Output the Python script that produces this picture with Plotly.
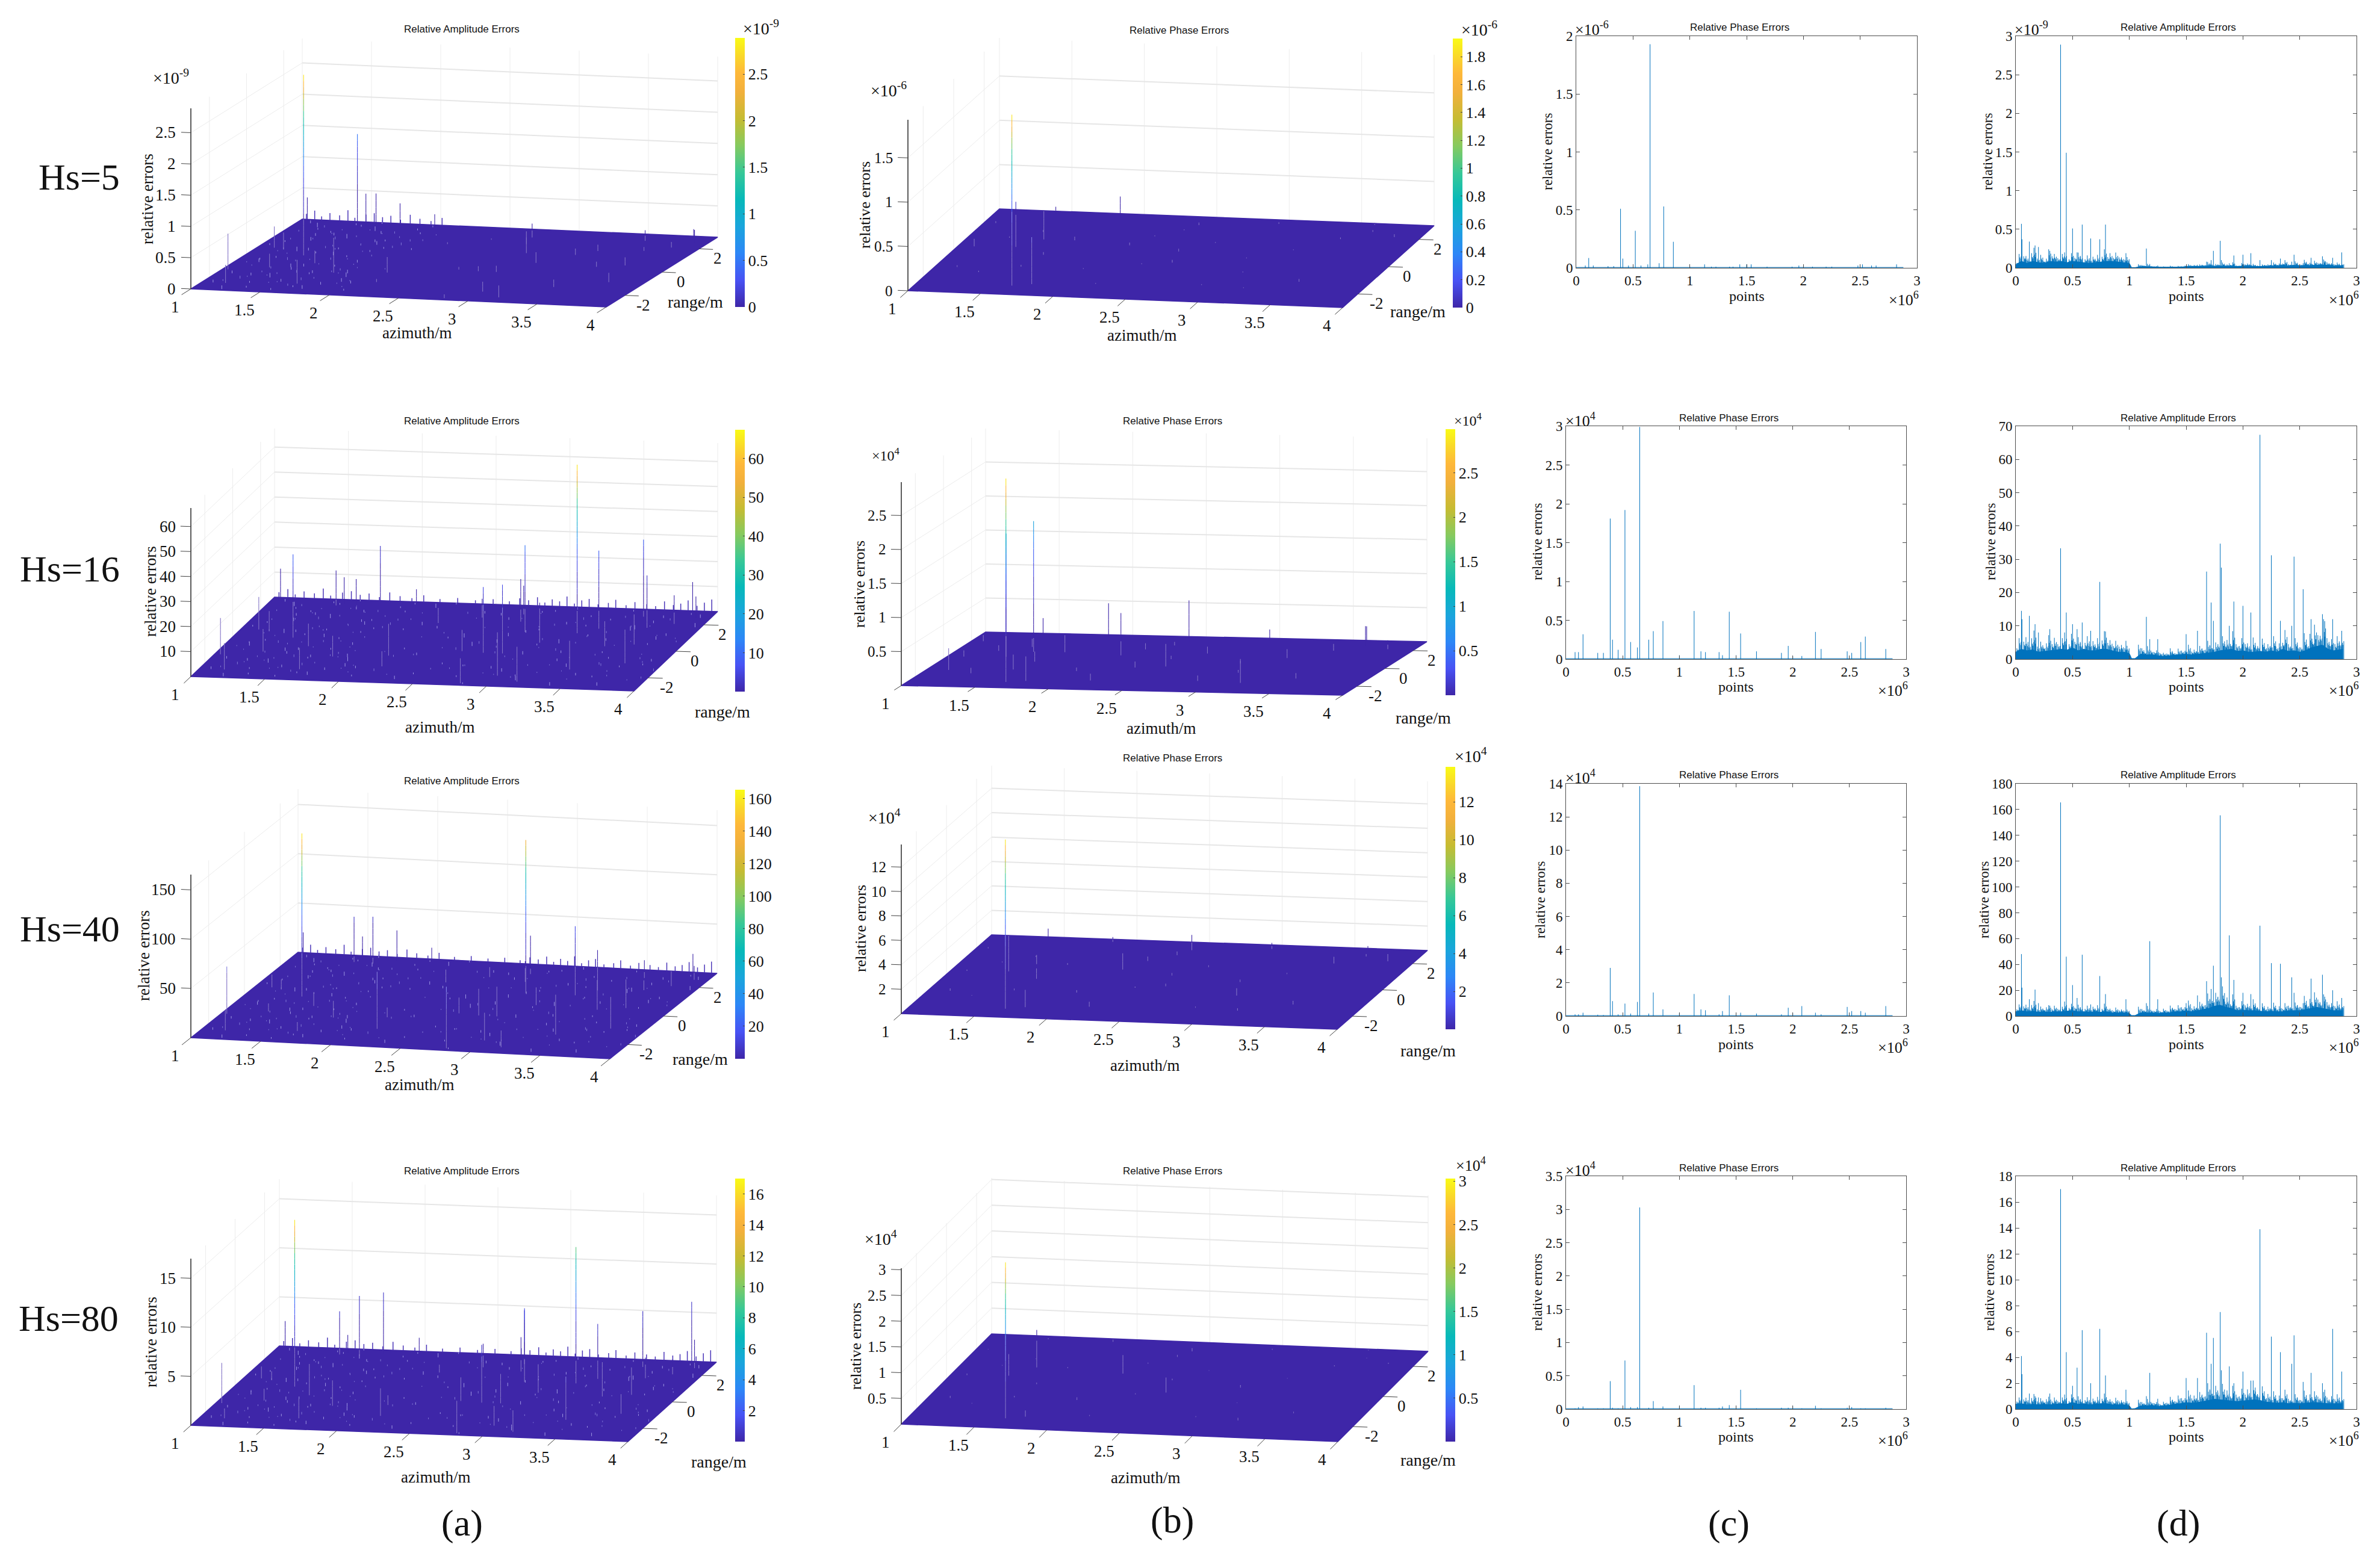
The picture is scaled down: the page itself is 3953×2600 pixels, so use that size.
import math
import plotly.graph_objects as go

W, H = 3953, 2600
BODY = 8  # the page's default body margin pushes the figure down and right
SERIF = "Liberation Serif"
SANS = "Liberation Sans"
BLUE = "#0072BD"
FLOOR = "#3e26a8"

PARULA = [[0, "#3e26a8"], [0.1, "#4852f4"], [0.2, "#2d87f7"], [0.3, "#1aa5dc"], [0.4, "#07b9b9"],
          [0.5, "#37c897"], [0.6, "#86ca5f"], [0.7, "#c6bc32"], [0.8, "#f2b03c"], [0.87, "#feb83a"],
          [0.93, "#fad62b"], [1, "#f9fb15"]]

# phase error spikes: index (1e6), range, height per Hs row
phase_x = [0.11, 0.15, 0.08, 0.28, 0.33, 0.39, 0.41, 0.46, 0.52, 0.57, 0.63, 0.65, 0.73, 0.77, 0.855, 1.0, 1.13, 1.19,
           1.23, 1.35, 1.38, 1.44, 1.5, 1.54, 1.68, 1.9, 1.96, 2.0, 2.08, 2.2, 2.25, 2.48, 2.52, 2.6, 2.64, 2.82]
phase_rng = [0.3, -1.2, 2, 1, -1.5, 0.37, 2.8, 1.5, 0.97, -1, -0.1, -2.36, 1, -2.2, 2.8, -1, 0.8, -2,
             1.5, -0.5, 2, 2.4, 0.5, -0.3, 1.2, -1.8, 2.7, 0.2, -0.8, -1.9, 0.9, 1.8, -1.3, 2.9, 2.4, 2.1]
phase_h5 = [.085, .02, .02, .015, .015, .51, .08, .02, .32, .02, .03, 1.93, .04, .53, .225, .01, .03, .01,
            .01, .01, .01, .03, .03, .03, .01, .01, .02, .01, .01, .01, .01, .02, .03, .02, .02, .03]
phase_h16 = [.09, .32, .09, .08, .08, 1.81, .25, .12, 1.92, .22, .15, 2.99, .25, .36, .49, .05, .62, .1,
             .09, .09, .05, .61, .05, .33, .1, .08, .17, .04, .04, .35, .13, .1, .08, .22, .29, .13]
phase_h40 = [.1, .2, .1, .08, .06, 2.9, .9, .1, .75, .15, .85, 13.85, .15, 1.42, .4, .2, 1.33, .4,
             .35, .1, .3, 1.25, .2, .2, .15, .1, .5, .2, .6, .2, .1, .55, .3, .3, .2, .6]
phase_h80 = [.03, .04, .01, .01, .01, .42, .02, .01, .73, .03, .03, 3.03, .02, .12, .04, .05, .36, .02,
             .02, .02, .04, .06, .03, .29, .01, .02, .02, .05, .01, .05, .01, .02, .03, .01, .01, .02]

# amplitude error spikes: index (1e6), azimuth, range, height per Hs row
amp_x = [.05, .055, .12, .17, .20, .30, .395, .445, .50, .54, .585, .66, .74, .79, .97, 1.15, 1.18, 1.25, 1.5, 1.6,
         1.68, 1.72, 1.74, 1.8, 1.81, 1.88, 1.92, 2.0, 2.07, 2.15, 2.25, 2.33, 2.43, 2.45, 2.53, 2.6, 2.7, 2.72, 2.79, 2.87]
amp_az = [1.04, 1.05, 1.12, 1.17, 1.2, 1.3, 1.40, 1.46, 1.5, 1.56, 1.6, 1.66, 1.74, 1.79, 1.97, 2.15, 2.18, 2.25, 2.5, 2.6,
          2.75, 2.78, 2.75, 2.88, 2.88, 2.81, 3.0, 3.05, 3.17, 3.23, 3.34, 3.43, 3.5, 3.55, 3.65, 3.68, 3.75, 3.8, 3.84, 3.9]
amp_rng = [-1.3, 2.9, .6, -2.4, .5, -1, .09, 2.54, 2.7, -.5, 2.5, -2.2, 2.75, -1.2, 2.9, -1, -1.8, 1.5, 2, -.5,
           -.57, 1.8, 2.33, 1.05, -.57, -2.85, -2.2, .3, -2.6, 1.08, 1.47, -1.58, .2, 2.45, 1.64, .4, -1, 2, 2.9, 2.5]
amp_h5 = [.57, .37, .34, .29, .27, .22, 2.89, 1.49, .51, .2, .56, .38, .37, .56, .19, .25, .05, .03, .02, .04,
          .08, .1, .22, .35, .1, .06, .16, .17, .19, .1, .1, .12, .08, .17, .06, .13, .15, .09, .13, .2]
amp_h16 = [14.5, 12, 13, 10.5, 8, 9, 33.3, 14, 10.5, 9, 11, 8.5, 23.2, 8.3, 5.5, 12.7, 6, 6, 7.5, 8.5,
           26.3, 17, 11.5, 34.7, 27.5, 10, 17.3, 16, 14, 67.4, 31.2, 11.5, 10, 30.8, 21, 12, 13.5, 11.4, 12, 8.5]
amp_h40 = [48, 22, 13, 20.5, 10, 8, 165.5, 46, 24, 14, 47.5, 9, 31, 17, 13, 10, 58, 13, 10, 16,
           27, 21, 39, 155.5, 30, 62.5, 28, 18, 17, 70, 41, 40.5, 30, 18, 10, 29, 32, 15, 20, 14]
amp_h80 = [4.1, 2.7, 1.2, 1, .9, 1.2, 17, 4.4, 1.8, 3.2, 6.1, 2, 6.2, 2.6, 1.5, 1, 2.8, .8, 2.4, 2.4,
           5.9, 3.5, 5.5, 7.5, 3, 3.3, 2, 2.9, 2.2, 13.9, 5.6, 4.4, 3.5, 5.7, 2.1, 2.8, 2, 1.5, 6.2, 2.9]

# pale small peaks scattered over the floor in column (a); height is a share of the z range
speck_az = [1.08, 1.13, 1.17, 1.22, 1.26, 1.31, 1.36, 1.39, 1.44, 1.48, 1.53, 1.57, 1.62, 1.65, 1.71, 1.75, 1.8, 1.84, 1.9, 1.94,
            1.06, 1.11, 1.19, 1.24, 1.29, 1.33, 1.38, 1.43, 1.47, 1.51, 1.55, 1.6, 1.64, 1.69, 1.73, 1.78, 1.83, 1.87, 1.92, 1.97,
            1.1, 1.15, 1.21, 1.27, 1.34, 1.41, 1.46, 1.52, 1.59, 1.67, 1.74, 1.81, 1.89, 1.96, 2.02, 2.07, 2.13, 2.21, 2.28, 2.35,
            2.42, 2.49, 2.56, 2.63, 2.69, 2.74, 2.8, 2.86, 2.91, 2.96, 3.02, 3.07, 3.12, 3.18, 3.24, 3.29, 3.36, 3.41, 3.47, 3.53,
            3.58, 3.63, 3.69, 3.74, 3.79, 3.85, 3.91, 3.96, 2.05, 2.16, 2.24, 2.33, 2.44, 2.52, 2.61, 2.71, 2.77, 2.83, 2.89, 2.94,
            3.0, 3.05, 3.1, 3.15, 3.21, 3.26, 3.32, 3.39, 3.45, 3.51, 3.56, 3.61, 3.66, 3.72, 3.77, 3.83, 3.88, 3.93]
speck_rng = [-2.4, 1.1, -.6, 2.2, -1.7, .4, -2.7, 1.8, -.9, 2.6, -2.1, .7, 2.3, -1.3, .1, -2.6, 1.5, -.3, 2.5, -1.9,
             .8, -1.6, 2.4, -.2, 1.3, -2.3, .5, 2.7, -1.1, 1.6, -2.8, .2, -1.4, 2.1, -.7, 1.2, -2.2, .9, -1.5, 2.8,
             2.7, -.4, -2.9, 1.7, 2, -1.8, .3, -.8, 2.9, -2.5, 1.4, .6, -1.2, 2.2, -2, .9, 2.6, -.5, 1.1, -2.7,
             .4, 2.3, -1.5, -.1, 1.9, -2.4, .7, 2.5, -1.7, 1.2, -.6, 2.8, -2.2, .3, 1.6, -1, 2.1, -2.8, .6, -.3,
             1.5, -2.1, 2.4, -1.3, .8, 2.7, -.8, 1.8, -2.6, 1.3, 2.9, -.9, -2.3, .5, 2.2, -1.6, .2, -2.9, 1, 2.6,
             -1.9, .1, 1.7, -2.5, 2.3, -.4, .9, -1.4, 2.8, -2, 1.4, -.7, 2, -2.7, .4, 1.1, -1.1, 2.5]
speck_h = [.015, .01, .02, .01, .015, .025, .01, .015, .02, .01, .015, .01, .025, .015, .01, .02, .01, .015, .01, .02,
           .01, .015, .025, .01, .02, .01, .015, .01, .015, .025, .01, .02, .01, .015, .01, .02, .015, .01, .025, .01,
           .015, .01, .02, .015, .01, .025, .01, .015, .02, .01, .015, .01, .02, .01, .015, .01, .025, .01, .015, .02,
           .01, .015, .01, .025, .015, .01, .02, .01, .015, .01, .02, .015, .01, .025, .01, .015, .01, .02, .015, .01,
           .025, .01, .015, .01, .02, .01, .015, .025, .01, .02, .01, .015, .01, .025, .015, .01, .02, .01, .015, .01,
           .02, .01, .015, .025, .01, .015, .01, .02, .01, .015, .025, .01, .015, .02, .01, .015, .01, .02]

# low peaks that make the far edge of the floor ragged in column (a)
edge_az = [1.03, 1.09, 1.14, 1.2, 1.27, 1.33, 1.38, 1.46, 1.52, 1.58, 1.64, 1.71, 1.78, 1.85, 1.93, 2.01, 2.12, 2.24, 2.36, 2.48,
           2.59, 2.66, 2.72, 2.78, 2.83, 2.88, 2.93, 2.98, 3.03, 3.08, 3.13, 3.19, 3.26, 3.31, 3.38, 3.44, 3.52, 3.58, 3.64, 3.7,
           3.75, 3.8, 3.86, 3.91, 3.96]
edge_h = [.03, .05, .02, .04, .03, .06, .02, .04, .05, .03, .04, .02, .05, .03, .02, .04, .02, .03, .02, .03,
          .02, .04, .03, .05, .02, .04, .03, .06, .02, .04, .05, .02, .03, .05, .02, .04, .03, .02, .05, .03,
          .04, .06, .03, .05, .07]

# dense blue band along the bottom of column (d), read every 0.05e6 points
env_x = [0, .05, .1, .15, .2, .25, .3, .35, .4, .45, .5, .55, .6, .65, .7, .75, .8, .85, .9, .95, 1.0, 1.02, 1.05,
         1.1, 1.15, 1.2, 1.25, 1.3, 1.35, 1.4, 1.45, 1.5, 1.55, 1.6, 1.65, 1.7, 1.75, 1.8, 1.85, 1.9, 1.95, 2.0,
         2.05, 2.1, 2.15, 2.2, 2.25, 2.3, 2.35, 2.4, 2.45, 2.5, 2.55, 2.6, 2.65, 2.7, 2.75, 2.8, 2.88]
env_h5 = [.05, .1, .07, .1, .08, .07, .1, .09, .1, .08, .1, .09, .08, .07, .08, .09, .1, .1, .09, .08, .07, .005, .005,
          .02, .02, .015, .01, .01, .01, .01, .012, .02, .02, .02, .025, .03, .025, .03, .025, .03, .02, .03,
          .03, .02, .02, .025, .03, .03, .04, .03, .04, .03, .04, .035, .04, .045, .04, .03, .03]
env_h16 = [2.5, 3.5, 3, 3.3, 2.5, 2.8, 3, 3.2, 3.5, 3.2, 4, 3, 3.5, 3, 3, 3.5, 3.5, 3, 2.5, 2.5, 2, .2, .2,
           1.8, 1.5, 1.6, 1.2, 1, 1.2, 1.3, 1.5, 1.8, 1.5, 1.8, 2, 2.2, 2.5, 3, 3.2, 3.5, 2.8, 3,
           2.5, 2.5, 2.8, 2.5, 3, 2.5, 3.5, 2.8, 3, 2.5, 3, 4, 4.5, 5, 3.5, 3, 3.5]
env_h40 = [4, 5, 4, 4.5, 3.5, 4, 3.5, 4, 4, 4.5, 5, 4, 4, 3.5, 4, 3.5, 4, 3, 3, 3, 2.5, .5, .5,
           3, 3, 3, 2.5, 3, 3, 4, 4, 5, 4, 5, 6, 7, 9, 10, 8, 7, 5, 5.5,
           5, 5, 4.5, 4, 4.5, 4, 4, 5, 5, 5, 6, 7, 8, 7, 6, 5, 5]
env_h80 = [.45, .5, .4, .45, .4, .45, .4, .45, .5, .45, .6, .45, .5, .4, .45, .5, .5, .4, .4, .4, .3, .03, .05,
           .3, .3, .35, .25, .3, .35, .45, .5, .6, .55, .6, .7, .8, .9, .85, .8, .75, .7, .75,
           .8, .85, .8, .65, .6, .55, .6, .5, .55, .5, .55, .6, .6, .55, .5, .5, .5]

# fine needles on top of that band; height is a multiple of the local band level
needle_x = [.01, .03, .07, .09, .11, .14, .16, .19, .22, .24, .27, .29, .32, .34, .37, .41, .43, .47, .49, .52, .55, .57, .61, .63,
            .65, .68, .7, .72, .76, .78, .81, .83, .86, .88, .91, .93, .96, .98, 1.06, 1.08, 1.11, 1.13, 1.16, 1.19, 1.22, 1.24,
            1.27, 1.3, 1.33, 1.36, 1.38, 1.41, 1.43, 1.46, 1.49, 1.52, 1.55, 1.57, 1.59, 1.62, 1.64, 1.67, 1.69, 1.71, 1.73, 1.76,
            1.78, 1.82, 1.84, 1.86, 1.89, 1.91, 1.94, 1.97, 1.99, 2.02, 2.04, 2.06, 2.09, 2.11, 2.13, 2.17, 2.19, 2.22, 2.24, 2.27,
            2.29, 2.32, 2.35, 2.37, 2.4, 2.42, 2.46, 2.48, 2.51, 2.54, 2.56, 2.59, 2.61, 2.63, 2.66, 2.68, 2.71, 2.74, 2.76, 2.78,
            2.81, 2.83, 2.85, 2.87]
needle_k = [1.3, 1.8, 1.5, 2.2, 1.4, 1.9, 2.6, 1.5, 2.1, 1.3, 1.7, 2.4, 1.5, 2, 1.4, 1.8, 2.5, 1.4, 1.9, 1.3, 2.2, 1.6, 1.4, 2.3,
            1.5, 1.8, 1.3, 2.1, 1.6, 2.4, 1.4, 1.9, 1.3, 2.2, 1.5, 1.7, 1.3, 2, 1.5, 2.4, 1.8, 1.4, 2.6, 1.6, 1.3, 2.2,
            1.5, 1.9, 1.4, 2.7, 1.6, 1.3, 2.1, 1.7, 1.4, 2.4, 1.5, 1.9, 1.3, 2.2, 1.6, 1.4, 2.5, 1.8, 1.3, 2, 1.5,
            2.3, 1.4, 1.8, 1.3, 2.4, 1.6, 1.4, 2.1, 1.5, 1.9, 1.3, 2.6, 1.6, 1.4, 2.2, 1.5, 1.8, 1.3, 2.3, 1.5,
            1.9, 1.4, 2.5, 1.6, 1.3, 2.1, 1.7, 1.4, 2.6, 1.5, 1.9, 1.3, 2.3, 1.6, 1.4, 2.4, 1.8, 1.3, 2, 1.5, 2.3, 1.4, 1.9, 1.3, 2.2]

base_x = [0, 2.88]
az_ticks = [1, 1.5, 2, 2.5, 3, 3.5, 4]
rng_ticks = [-2, 0, 2]


def px(x):
    return (x - BODY) / W


def py(y):
    return 1 - (y - BODY) / H


def fmt(v):
    return f"{v:g}"


def hex_to_rgb(c):
    return [int(c[i:i + 2], 16) for i in (1, 3, 5)]


def parula(v):
    v = min(max(v, 0), 1)
    for (a, ca), (b, cb) in zip(PARULA, PARULA[1:]):
        if v <= b:
            f = (v - a) / (b - a)
            return [round(p + (q - p) * f) for p, q in zip(hex_to_rgb(ca), hex_to_rgb(cb))]
    return hex_to_rgb(PARULA[-1][1])


def css(rgb):
    return f"rgb({rgb[0]},{rgb[1]},{rgb[2]})"


def pale(rgb, f=0.5):
    return [round(c + (255 - c) * f) for c in rgb]


annotations = []


def label(text, x, y, size, family=SERIF, angle=0, anchor="center"):
    annotations.append(dict(text=text, x=px(x), y=py(y), xref="paper", yref="paper", showarrow=False,
                            xanchor=anchor, yanchor="middle", textangle=angle,
                            font=dict(family=family, size=size, color="#111111")))


fig = go.Figure()
layout = {}


def add_lines(xs, ys, color, width=1):
    fig.add_trace(go.Scatter(x=xs, y=ys, mode="lines", xaxis="x", yaxis="y", hoverinfo="skip", showlegend=False,
                             line=dict(color=color, width=width)))


def add_surface_panel(xs, ys, hs, zmax, lf, rf, rb, lb, ztop_y, zticks, cticks, cbar, specks=None, edge=None, zfont=27):
    # WebGL scenes do not draw in the headless page, so the 3D axes are projected onto the page axes here
    def proj(a, r, z=0):
        fa, fr = (a - 1) / 3, (r + 3) / 6
        return (lf[0] + fa * (rf[0] - lf[0]) + fr * (lb[0] - lf[0]),
                lf[1] + fa * (rf[1] - lf[1]) + fr * (lb[1] - lf[1]) - z / zmax * (lf[1] - ztop_y))

    def segs(points):
        xs_, ys_ = [], []
        for p, q in points:
            xs_ += [p[0], q[0], None]
            ys_ += [p[1], q[1], None]
        return xs_, ys_

    # walls: thin verticals, heavier lines along the far wall
    thin = [(proj(t, 3), proj(t, 3, zmax)) for t in az_ticks]
    thin += [(proj(1, t), proj(1, t, zmax)) for t in rng_ticks]
    thin += [(proj(1, -3, t), proj(1, 3, t)) for t in zticks if t > 0]
    add_lines(*segs(thin), "#ececec", 1)
    add_lines(*segs([(proj(1, 3, t), proj(4, 3, t)) for t in zticks if t > 0]), "#e6e6e6", 2)

    # floor
    corners = [proj(1, -3), proj(4, -3), proj(4, 3), proj(1, 3), proj(1, -3)]
    fig.add_trace(go.Scatter(x=[c[0] for c in corners], y=[c[1] for c in corners], mode="lines", fill="toself",
                             fillcolor=FLOOR, xaxis="x", yaxis="y", hoverinfo="skip", showlegend=False,
                             line=dict(color=FLOOR, width=1.5)))

    if specks:
        add_lines(*segs([(proj(a, r), proj(a, r, h * zmax)) for a, r, h in specks]), "#9d96e2", 1)
        # second, shorter pass between the read peaks to fill out the fine texture
        add_lines(*segs([(proj(min(a + .03, 3.99), -r * .83), proj(min(a + .03, 3.99), -r * .83, h * zmax * .6))
                         for a, r, h in specks]), "#8178d6", 1)
    if edge:
        add_lines(*segs([(proj(a, 3), proj(a, 3, h * zmax)) for a, h in edge]), "#4b36b8", 1.5)

    # spikes, cut into short pieces so that they can follow the colour scale
    buckets = {}

    def back_y(sx):
        return lb[1] + (sx - lb[0]) * (rb[1] - lb[1]) / (rb[0] - lb[0])

    for a, r, h in zip(xs, ys, hs):
        pieces = max(2, int(h / zmax * 30))
        for i in range(pieces):
            z0, z1 = h * i / pieces, h * (i + 1) / pieces
            p, q = proj(a, r, z0), proj(a, r, z1)
            v = round(((z0 + z1) / 2 / zmax) ** 2.7 * 24) / 24
            col = parula(v)
            if q[1] > back_y(q[0]):
                col = pale(col, 0.35)
            b = buckets.setdefault(css(col), ([], []))
            b[0].extend([p[0], q[0], None])
            b[1].extend([p[1], q[1], None])
    for col, (bx, by) in buckets.items():
        add_lines(bx, by, col, 1.1)

    # axis lines and tick marks
    add_lines(*segs([(proj(1, -3), proj(1, -3, zmax))]), "#262626", 1.5)
    marks = [(proj(t, -3), proj(t, -3.5)) for t in az_ticks]
    marks += [(proj(4, t), proj(4.1, t)) for t in rng_ticks]
    marks += [(proj(1, -3, t), proj(0.93, -3, t)) for t in zticks]
    add_lines(*segs(marks), "#444444", 1)

    # tick labels
    for t in az_ticks:
        sx, sy = proj(t, -3)
        label(fmt(t), sx - 26, sy + 30, 27)
    for t in rng_ticks:
        sx, sy = proj(4, t)
        label(fmt(t), sx + 31, sy + 16, 27)
    for t in zticks:
        sx, sy = proj(1, -3, t)
        label(fmt(t), sx - 23, sy, zfont, anchor="right")

    # colour bar
    fig.add_trace(go.Scatter(
        x=[-50], y=[-50], mode="markers", xaxis="x", yaxis="y", hoverinfo="skip", showlegend=False,
        marker=dict(size=1, color=[0], colorscale=PARULA, cmin=0, cmax=zmax, showscale=True,
                    colorbar=dict(x=px(cbar[0]), xanchor="left", y=py(cbar[1]), yanchor="top", len=cbar[2] - cbar[1],
                                  lenmode="pixels", thickness=16, thicknessmode="pixels", xpad=0, ypad=0,
                                  outlinewidth=0, ticks="inside", ticklen=3, tickcolor="#444444", tickvals=cticks,
                                  ticktext=[fmt(t) for t in cticks],
                                  tickfont=dict(family=SERIF, size=26, color="#111111")))))


def band_at(env, x):
    i = min(range(len(env_x)), key=lambda j: abs(env_x[j] - x))
    return env[i]


def add_line_panel(n, spike_x, spike_h, env, y_max, dtick, x0, x1, y0, y1):
    xname, yname = f"xaxis{n}", f"yaxis{n}"
    xa, ya = f"x{n}", f"y{n}"
    common = dict(showgrid=False, zeroline=False, showline=True, linecolor="#4d4d4d", linewidth=1, mirror="ticks",
                  ticks="inside", ticklen=6, tickcolor="#4d4d4d",
                  tickfont=dict(family=SERIF, size=23, color="#111111"))
    layout[xname] = dict(common, domain=[px(x0), px(x1)], range=[0, 3], dtick=0.5, anchor=ya)
    layout[yname] = dict(common, domain=[py(y1), py(y0)], range=[0, y_max], dtick=dtick, anchor=xa)
    lx, ly = [], []
    for a, h in zip(spike_x, spike_h):
        lx += [a, a, None]
        ly += [0, h, None]
    if env is not None:
        for a, k in zip(needle_x, needle_k):
            lx += [a, a, None]
            ly += [0, k * band_at(env, a), None]
            # shorter needles in between close up the top of the band
            for off, f in [(.006, .45), (.012, .25), (.018, .6)]:
                lx += [a + off, a + off, None]
                ly += [0, (1 + (k - 1) * f) * band_at(env, a), None]
    fig.add_trace(go.Scatter(x=lx, y=ly, mode="lines", xaxis=xa, yaxis=ya, hoverinfo="skip", showlegend=False,
                             line=dict(color=BLUE, width=1)))
    if env is None:
        fig.add_trace(go.Scatter(x=base_x, y=[y_max * 0.002] * 2, mode="lines", xaxis=xa, yaxis=ya,
                                 hoverinfo="skip", showlegend=False, line=dict(color=BLUE, width=1)))
    else:
        fig.add_trace(go.Scatter(x=env_x, y=[v * 0.85 for v in env], mode="lines", xaxis=xa, yaxis=ya, fill="tozeroy",
                                 fillcolor=BLUE, hoverinfo="skip", showlegend=False, line=dict(color=BLUE, width=1)))


phase_az = [1 + x for x in phase_x]
all_specks = list(zip(speck_az, speck_rng, speck_h))
left_specks = [s for s in all_specks if s[0] < 2.1]
all_edge = list(zip(edge_az, edge_h))

# column (a)
add_surface_panel(amp_az, amp_rng, amp_h5, 2.89, (317, 480), (1007, 510), (1191, 395), (502, 364), 180,
                  [0, .5, 1, 1.5, 2, 2.5], [0, .5, 1, 1.5, 2, 2.5], (1221, 63, 510), left_specks, all_edge[:16])
add_surface_panel(amp_az, amp_rng, amp_h16, 67.4, (317, 1124), (1053, 1148), (1191, 1017), (456, 992), 844,
                  [10, 20, 30, 40, 50, 60], [10, 20, 30, 40, 50, 60], (1221, 714, 1149), all_specks, all_edge)
add_surface_panel(amp_az, amp_rng, amp_h40, 165.5, (317, 1724), (1013, 1759), (1191, 1617), (495, 1582), 1453,
                  [50, 100, 150], [20, 40, 60, 80, 100, 120, 140, 160], (1221, 1312, 1759), all_specks, all_edge)
add_surface_panel(amp_az, amp_rng, amp_h80, 17, (317, 2368), (1043, 2395), (1191, 2262), (464, 2236), 2091,
                  [5, 10, 15], [2, 4, 6, 8, 10, 12, 14, 16], (1221, 1958, 2395), all_specks, all_edge)
# column (b)
add_surface_panel(phase_az, phase_rng, phase_h5, 1.93, (1508, 483), (2230, 511), (2383, 375), (1660, 347), 199,
                  [0, .5, 1, 1.5], [0, .2, .4, .6, .8, 1, 1.2, 1.4, 1.6, 1.8], (2413, 64, 511), zfont=25)
add_surface_panel(phase_az, phase_rng, phase_h16, 2.99, (1497, 1139), (2230, 1155), (2372, 1067), (1637, 1050), 801,
                  [.5, 1, 1.5, 2, 2.5], [.5, 1, 1.5, 2, 2.5], (2401, 713, 1155), zfont=25)
add_surface_panel(phase_az, phase_rng, phase_h40, 13.85, (1497, 1684), (2221, 1710), (2372, 1580), (1647, 1553), 1403,
                  [2, 4, 6, 8, 10, 12], [2, 4, 6, 8, 10, 12], (2401, 1274, 1710), zfont=25)
add_surface_panel(phase_az, phase_rng, phase_h80, 3.03, (1497, 2366), (2222, 2395), (2372, 2247), (1647, 2216), 2107,
                  [.5, 1, 1.5, 2, 2.5, 3], [.5, 1, 1.5, 2, 2.5, 3], (2401, 1958, 2395), zfont=25)

# columns (c) and (d)
add_line_panel(2, phase_x, phase_h5, None, 2, 0.5, 2618, 3184, 60, 445)
add_line_panel(3, phase_x, phase_h16, None, 3, 0.5, 2601, 3166, 708, 1095)
add_line_panel(4, phase_x, phase_h40, None, 14, 2, 2601, 3166, 1302, 1688)
add_line_panel(5, phase_x, phase_h80, None, 3.5, 0.5, 2601, 3166, 1954, 2341)
add_line_panel(6, amp_x, amp_h5, env_h5, 3, 0.5, 3348, 3914, 60, 445)
add_line_panel(7, amp_x, amp_h16, env_h16, 70, 10, 3348, 3914, 708, 1095)
add_line_panel(8, amp_x, amp_h40, env_h40, 180, 20, 3348, 3914, 1302, 1688)
add_line_panel(9, amp_x, amp_h80, env_h80, 18, 2, 3348, 3914, 1954, 2341)

# row labels and column labels
for text, x, y in [("Hs=5", 131, 294), ("Hs=16", 116, 945), ("Hs=40", 116, 1543), ("Hs=80", 114, 2190),
                   ("(a)", 767, 2530), ("(b)", 1947, 2525), ("(c)", 2871, 2530), ("(d)", 3618, 2530)]:
    label(text, x, y, 62)

# titles
for text, x, y in [("Relative Amplitude Errors", 767, 49), ("Relative Amplitude Errors", 767, 699),
                   ("Relative Amplitude Errors", 767, 1297), ("Relative Amplitude Errors", 767, 1945),
                   ("Relative Phase Errors", 1958, 50), ("Relative Phase Errors", 1947, 699),
                   ("Relative Phase Errors", 1947, 1259), ("Relative Phase Errors", 1947, 1945),
                   ("Relative Phase Errors", 2889, 45), ("Relative Phase Errors", 2871, 694),
                   ("Relative Phase Errors", 2871, 1287), ("Relative Phase Errors", 2871, 1940),
                   ("Relative Amplitude Errors", 3618, 45), ("Relative Amplitude Errors", 3618, 694),
                   ("Relative Amplitude Errors", 3618, 1287), ("Relative Amplitude Errors", 3618, 1940)]:
    label(text, x, y, 17, SANS)

# axis titles
for x, y, size in [(245, 331, 27), (250, 983, 27), (239, 1588, 27), (251, 2230, 27),
                   (1436, 341, 26), (1428, 971, 26), (1429, 1543, 26), (1421, 2237, 26),
                   (2571, 252, 23), (2553, 900, 23), (2558, 1495, 23), (2553, 2147, 23),
                   (3302, 252, 23), (3306, 900, 23), (3295, 1495, 23), (3304, 2147, 23)]:
    label("relative errors", x, y, size, angle=-90)
for x, y in [(692, 553), (730, 1208), (696, 1802), (723, 2454), (1896, 557), (1928, 1210), (1901, 1770), (1902, 2455)]:
    label("azimuth/m", x, y, 27)
for x, y in [(1155, 501), (1200, 1182), (1163, 1759), (1194, 2428), (2355, 518), (2364, 1192), (2372, 1745), (2372, 2425)]:
    label("range/m", x, y, 28)
for x, y in [(2901, 492), (3631, 492), (2883, 1141), (3631, 1141), (2883, 1735), (3631, 1735), (2883, 2387), (3631, 2387)]:
    label("points", x, y, 24)

# exponent labels
for text, x, y, size in [("×10<sup>-9</sup>", 284, 127, 28), ("×10<sup>-9</sup>", 1264, 46, 28),
                         ("×10<sup>-6</sup>", 1476, 149, 28), ("×10<sup>-6</sup>", 2457, 47, 28),
                         ("×10<sup>4</sup>", 1471, 755, 24), ("×10<sup>4</sup>", 2438, 697, 24),
                         ("×10<sup>4</sup>", 1469, 1356, 28), ("×10<sup>4</sup>", 2443, 1254, 28),
                         ("×10<sup>4</sup>", 1463, 2056, 28), ("×10<sup>4</sup>", 2443, 1934, 26),
                         ("×10<sup>-6</sup>", 2644, 47, 26), ("×10<sup>-9</sup>", 3374, 47, 26),
                         ("×10<sup>4</sup>", 2625, 697, 26), ("×10<sup>4</sup>", 2625, 1290, 26),
                         ("×10<sup>4</sup>", 2625, 1942, 26),
                         ("×10<sup>6</sup>", 3162, 496, 26), ("×10<sup>6</sup>", 3893, 496, 26),
                         ("×10<sup>6</sup>", 3144, 1145, 26), ("×10<sup>6</sup>", 3893, 1145, 26),
                         ("×10<sup>6</sup>", 3144, 1738, 26), ("×10<sup>6</sup>", 3893, 1738, 26),
                         ("×10<sup>6</sup>", 3144, 2391, 26), ("×10<sup>6</sup>", 3893, 2391, 26)]:
    label(text, x, y, size)

fig.update_layout(width=W, height=H, margin=dict(l=0, r=0, t=0, b=0, pad=0, autoexpand=False),
                  paper_bgcolor="white", plot_bgcolor="rgba(0,0,0,0)", showlegend=False, annotations=annotations,
                  xaxis=dict(range=[BODY, W + BODY], domain=[0, 1], visible=False, fixedrange=True),
                  yaxis=dict(range=[H + BODY, BODY], domain=[0, 1], visible=False, fixedrange=True), **layout)

fig.write_html("out.html")
